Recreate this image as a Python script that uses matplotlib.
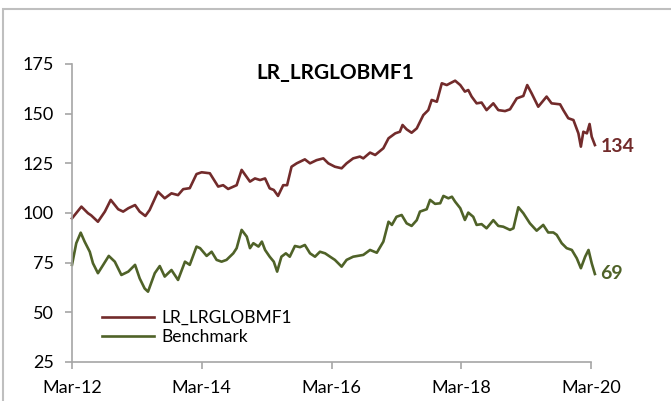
import pandas
import matplotlib
matplotlib.use("Agg")
import matplotlib.pyplot as plt
import matplotlib.dates as mdates
import matplotlib.patches as patches

fundName   = "LR_LRGLOBMF1"
benchName  = "Benchmark"

fundDates = ["2012-03-01", "2012-04-23", "2012-05-30", "2012-06-17", "2012-07-25", "2012-09-02",
             "2012-10-05", "2012-11-16", "2012-12-14", "2013-01-12", "2013-02-19", "2013-03-17",
             "2013-04-18", "2013-05-12", "2013-06-28", "2013-08-05", "2013-09-12", "2013-10-19",
             "2013-11-17", "2013-12-24", "2014-01-31", "2014-03-01", "2014-04-16", "2014-06-02",
             "2014-06-30", "2014-07-28", "2014-09-14", "2014-10-12", "2014-11-28", "2014-12-26",
             "2015-01-24", "2015-02-21", "2015-03-19", "2015-04-11", "2015-05-05", "2015-06-03",
             "2015-06-25", "2015-07-20", "2015-08-18", "2015-10-03", "2015-11-01", "2015-12-08",
             "2016-01-15", "2016-02-12", "2016-03-20", "2016-04-27", "2016-05-25", "2016-07-01",
             "2016-08-08", "2016-08-27", "2016-10-04", "2016-11-02", "2016-12-18", "2017-01-16",
             "2017-02-23", "2017-03-21", "2017-04-05", "2017-04-28", "2017-05-26", "2017-06-24",
             "2017-07-31", "2017-08-28", "2017-09-16", "2017-10-15", "2017-11-12", "2017-12-10",
             "2017-12-29", "2018-01-26", "2018-02-24", "2018-03-22", "2018-04-10", "2018-04-29",
             "2018-05-27", "2018-06-24", "2018-07-22", "2018-08-29", "2018-09-26", "2018-11-03",
             "2018-12-01", "2019-01-08", "2019-02-14", "2019-03-08", "2019-04-02", "2019-05-09",
             "2019-06-25", "2019-07-23", "2019-09-09", "2019-09-27", "2019-10-25", "2019-11-23",
             "2019-12-21", "2020-01-04", "2020-01-18", "2020-02-07", "2020-02-22", "2020-03-05",
             "2020-03-23"]
fundValues = [97.3, 103.2, 99.9, 98.8, 95.6, 100.7,
              106.6, 101.9, 100.7, 102.4, 104.0, 100.7,
              98.5, 101.5, 110.7, 107.4, 109.9, 109.0,
              112.0, 112.5, 119.6, 120.5, 120.0, 113.3,
              114.0, 112.1, 114.0, 121.7, 115.8, 117.4,
              116.6, 117.4, 112.4, 111.6, 108.6, 114.0,
              114.0, 123.3, 125.0, 127.0, 125.0, 126.6,
              127.5, 125.0, 123.3, 122.5, 125.0, 127.5,
              128.4, 127.5, 130.4, 129.2, 132.6, 137.6,
              140.1, 140.9, 144.3, 142.1, 140.4, 142.6,
              149.3, 151.8, 156.9, 156.0, 165.3, 164.4,
              165.3, 166.6, 164.4, 161.1, 161.9, 158.6,
              155.2, 155.6, 151.8, 155.2, 151.8, 151.3,
              152.2, 157.7, 158.9, 164.4, 160.2, 153.5,
              158.6, 155.2, 154.7, 151.8, 147.7, 146.8,
              140.1, 133.4, 140.9, 140.1, 144.8, 138.4,
              134.2]

benchDates = ["2012-03-01", "2012-03-25", "2012-04-19", "2012-05-11", "2012-06-09", "2012-06-27",
              "2012-07-25", "2012-08-23", "2012-09-24", "2012-10-28", "2012-12-04", "2013-01-12",
              "2013-02-19", "2013-03-17", "2013-04-14", "2013-05-03", "2013-06-10", "2013-07-08",
              "2013-08-05", "2013-09-12", "2013-10-19", "2013-11-27", "2013-12-24", "2014-01-31",
              "2014-02-20", "2014-03-29", "2014-04-26", "2014-05-24", "2014-06-21", "2014-07-19",
              "2014-08-26", "2014-09-14", "2014-10-12", "2014-11-10", "2014-11-28", "2014-12-17",
              "2015-01-15", "2015-02-03", "2015-02-21", "2015-03-19", "2015-04-11", "2015-04-30",
              "2015-05-24", "2015-06-18", "2015-07-10", "2015-08-08", "2015-09-06", "2015-10-03",
              "2015-11-01", "2015-11-29", "2015-12-27", "2016-01-25", "2016-02-22", "2016-03-20",
              "2016-04-27", "2016-05-25", "2016-07-01", "2016-08-27", "2016-10-04", "2016-11-11",
              "2016-12-18", "2017-01-16", "2017-02-04", "2017-03-02", "2017-03-31", "2017-04-28",
              "2017-05-26", "2017-06-24", "2017-07-12", "2017-08-19", "2017-09-07", "2017-10-05",
              "2017-11-03", "2017-11-21", "2017-12-19", "2018-01-08", "2018-01-26", "2018-02-24",
              "2018-03-22", "2018-04-10", "2018-05-08", "2018-05-27", "2018-06-24", "2018-07-22",
              "2018-08-29", "2018-09-26", "2018-10-24", "2018-12-01", "2018-12-20", "2019-01-17",
              "2019-02-14", "2019-03-23", "2019-04-30", "2019-06-06", "2019-07-04", "2019-08-02",
              "2019-08-21", "2019-09-18", "2019-10-16", "2019-11-14", "2019-12-12", "2020-01-04",
              "2020-01-28", "2020-02-16", "2020-03-05", "2020-03-23"]
benchValues = [73.9, 84.8, 90.1, 85.6, 80.5, 74.7,
               69.7, 73.8, 78.4, 75.5, 68.8, 70.5,
               73.9, 67.1, 62.0, 60.4, 69.7, 73.3,
               68.0, 71.3, 66.3, 75.5, 73.9, 83.1,
               82.3, 78.4, 80.5, 76.4, 75.5, 76.4,
               79.7, 82.3, 91.5, 88.1, 82.3, 84.8,
               83.1, 85.6, 81.4, 78.0, 75.5, 70.5,
               78.0, 79.7, 78.0, 83.4, 82.8, 83.9,
               79.7, 78.0, 80.5, 79.7, 78.0, 76.4,
               73.0, 76.4, 78.0, 78.9, 81.4, 80.0,
               85.6, 95.6, 94.0, 98.1, 99.0, 94.8,
               93.5, 96.4, 100.7, 101.9, 106.6, 104.6,
               104.9, 108.6, 107.4, 108.2, 105.7, 102.4,
               96.5, 100.2, 98.1, 94.0, 94.4, 92.3,
               96.4, 93.5, 93.1, 91.5, 92.3, 102.9,
               99.9, 94.8, 91.1, 94.0, 90.2, 90.2,
               89.0, 84.8, 82.3, 81.4, 77.2, 72.2,
               78.0, 81.4, 74.7, 69.3]

yTicks     = [25, 50, 75, 100, 125, 150, 175]
xTickDates = ["2012-03-01", "2014-03-01", "2016-03-01", "2018-03-01", "2020-03-01"]

fundColor  = "#722B2B"
benchColor = "#4F6228"
axisColor  = "#A6A6A6"

plt.rcParams["font.family"] = ["Lato", "DejaVu Sans"]

fig = plt.figure(figsize=(6.71, 4.01), dpi=100)
ax = fig.add_axes([72/671, 1-362/401, (591-72)/671, (362-64)/401])

fundX  = pandas.to_datetime(fundDates)
benchX = pandas.to_datetime(benchDates)

ax.plot(fundX, fundValues, color=fundColor, linewidth=1.9, label=fundName, clip_on=False)
ax.plot(benchX, benchValues, color=benchColor, linewidth=1.9, label=benchName, clip_on=False)

ax.set_xlim(pandas.Timestamp(xTickDates[0]), pandas.Timestamp(xTickDates[-1]))
ax.set_ylim(25, 175)
ax.set_yticks(yTicks)
ax.set_xticks(pandas.to_datetime(xTickDates))
ax.xaxis.set_major_formatter(mdates.DateFormatter("%b-%y"))

for side in ["top", "right"]:
    ax.spines[side].set_visible(False)
for side in ["left", "bottom"]:
    ax.spines[side].set_color(axisColor)
    ax.spines[side].set_linewidth(1.2)
ax.tick_params(axis="both", direction="out", length=5, width=1.2, color=axisColor,
               labelsize=13, labelcolor="black")
ax.tick_params(axis="y", pad=8)
ax.tick_params(axis="x", pad=8)

ax.annotate(str(round(fundValues[-1])), (fundX[-1], fundValues[-1]), xytext=(4, -1),
            textcoords="offset points", va="center", ha="left", annotation_clip=False,
            fontsize=14, fontweight="bold", color=fundColor)
ax.annotate(str(round(benchValues[-1])), (benchX[-1], benchValues[-1]), xytext=(4, 0),
            textcoords="offset points", va="center", ha="left", annotation_clip=False,
            fontsize=14, fontweight="bold", color=benchColor)

fig.text(335/671, 1-73/401, fundName, ha="center", va="center", fontsize=15, fontweight="bold")

ax.legend(loc="lower left", bbox_to_anchor=(0.045, 0.035), frameon=False, fontsize=12.5,
          handlelength=3.0, handletextpad=0.4, labelspacing=0.15, borderaxespad=0)

# chart area frame (only left and top edges are inside the picture)
fig.add_artist(patches.Rectangle((3/671, -0.2), 1.2, 1.2-9/401, transform=fig.transFigure,
                                 fill=False, edgecolor="#BFBFBF", linewidth=1.5, clip_on=False))

plt.savefig("out.png", dpi=100)
plt.close()
